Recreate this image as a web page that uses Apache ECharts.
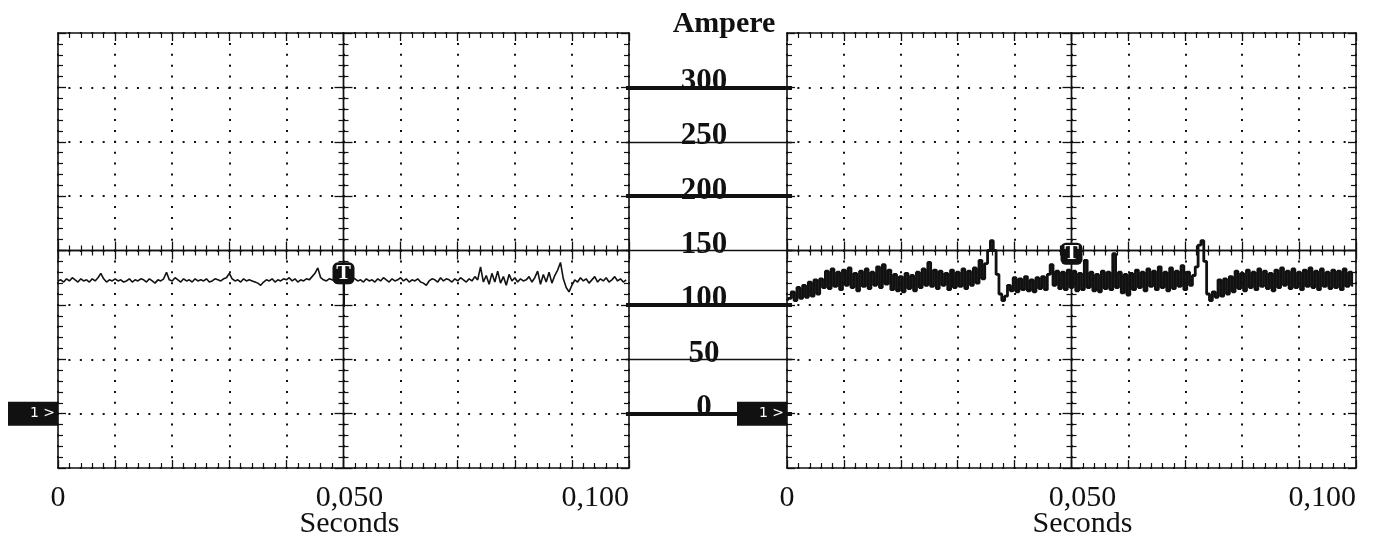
<!DOCTYPE html>
<html>
<head>
<meta charset="utf-8">
<script src="https://cdn.jsdelivr.net/npm/echarts@6/dist/echarts.min.js"></script>
<style>
  html, body { margin: 0; padding: 0; background: #fff; }
  #chart { width: 1375px; height: 541px; }
</style>
</head>
<body>
<div id="chart"></div>
<script>
// Time base of both captures (s)
const sampleStep = 0.0005;
const timeSpan = 0.1;
const timeTickStep = 0.01;
const timeLabelValues = [0, 0.05, 0.1];
const timeLabelTexts = ['0', '0,050', '0,100'];

// Current scale (A)
const ampMin = -50;
const ampMax = 350;
const ampStep = 50;
const ampScaleLevels = [0, 50, 100, 150, 200, 250, 300];

// Trigger levels (A)
const triggerLeft = 129;
const triggerRight = 147;
const triggerStemEnd = 98;

// Current, left capture (A)
const currentLeft = [
  122,123,121,124,122,125,123,121,124,122,
  123,121,124,122,125,129,124,121,123,122,
  124,122,123,121,122,124,121,123,122,124,
  123,121,124,122,120,123,122,124,130,123,
  122,125,123,121,124,122,123,121,124,122,
  123,122,124,121,122,124,123,122,124,125,
  129,124,122,123,121,124,122,123,122,121,
  120,118,121,123,122,124,121,123,122,124,
  123,125,122,124,121,123,122,124,123,126,
  129,134,125,123,122,124,123,122,124,123,
  124,122,123,125,124,122,123,121,124,122,
  123,121,124,122,125,123,121,124,122,123,
  125,122,124,121,123,122,124,121,120,118,
  122,124,123,121,125,122,124,123,121,124,
  122,125,123,121,124,122,126,123,135,121,
  127,119,129,121,131,120,126,118,128,122,
  125,121,124,122,123,126,121,125,131,119,
  128,121,130,120,127,132,139,124,116,112,
  118,123,121,125,122,124,120,123,126,121,
  124,122,125,121,123,126,122,124,121,123
];

// Current, right capture (A)
const currentRight = [
  104,106,112,104,116,106,118,107,121,108,
  123,110,124,116,131,115,133,117,130,114,
  132,118,134,116,129,113,131,117,133,115,
  130,118,135,116,137,119,132,114,128,113,
  126,112,129,115,127,113,130,116,133,118,
  139,117,132,115,131,118,129,114,132,116,
  130,117,133,115,131,118,134,120,141,124,
  138,150,159,150,128,110,104,108,118,113,
  125,112,124,114,126,113,123,112,125,115,
  126,114,128,137,118,131,115,130,114,132,
  116,131,113,129,114,141,116,130,113,128,
  112,131,115,130,114,147,116,130,111,128,
  109,129,114,132,116,130,113,133,117,131,
  114,135,116,130,113,134,115,131,117,136,
  114,130,118,127,135,155,159,140,110,104,
  112,107,123,108,124,110,126,112,131,115,
  129,113,132,116,130,114,133,117,131,115,
  129,113,132,116,134,118,131,115,133,116,
  130,114,132,117,134,116,131,114,133,117,
  130,115,132,116,131,114,133,117,130,118
];

const serif = "'Liberation Serif', 'Times New Roman', serif";
const ink = '#111';

function timeSeries(values) {
  return values.map((v, i) => [i * sampleStep, v]);
}

const grids = [
  { left: 58, top: 33, width: 571, height: 435, outerBoundsMode: 'none', containLabel: false },
  { left: 787, top: 33, width: 569, height: 435, outerBoundsMode: 'none', containLabel: false },
  { left: 626, top: 33, width: 166, height: 435, outerBoundsMode: 'none', containLabel: false }
];

const xAxes = [];
const yAxes = [];

function stroke(w) { return { color: ink, width: w }; }
function ticks(inside, len) { return { show: true, inside: inside, length: len, lineStyle: stroke(1.3) }; }
function minors(len) { return { show: true, splitNumber: 5, length: len, lineStyle: stroke(1.2) }; }

// Oscilloscope graticule: border with ticks, dotted divisions, centre cross with ticks
function scopeAxes(gridIndex, midShift, nameShift, dotGapX, dotGapY) {
  const base = xAxes.length;
  const timeCommon = {
    type: 'value', gridIndex: gridIndex, min: 0, max: timeSpan, interval: timeTickStep,
    axisLabel: { show: false }, splitLine: { show: false }
  };
  const ampCommon = {
    type: 'value', gridIndex: gridIndex, min: ampMin, max: ampMax, interval: ampStep,
    axisLabel: { show: false }, splitLine: { show: false }
  };
  xAxes.push(Object.assign({}, timeCommon, {
    position: 'bottom',
    axisLine: { onZero: false, lineStyle: stroke(1.6) },
    axisTick: ticks(true, 8), minorTick: minors(5),
    splitLine: { show: true, lineStyle: { color: ink, width: 2, type: [2, dotGapY], dashOffset: 1 } },
    axisLabel: {
      show: true, customValues: timeLabelValues, margin: 15,
      fontFamily: serif, fontSize: 30, color: ink,
      alignMinLabel: 'center', alignMaxLabel: 'right',
      rich: { mid: { fontFamily: serif, fontSize: 30, color: ink, padding: [0, 0, 0, midShift] } },
      formatter: function (v) {
        let best = 0;
        timeLabelValues.forEach((t, i) => { if (Math.abs(t - v) < Math.abs(timeLabelValues[best] - v)) best = i; });
        return best === 1 ? '{mid|' + timeLabelTexts[best] + '}' : timeLabelTexts[best];
      }
    },
    name: 'Seconds', nameLocation: 'middle', nameGap: 41, nameMoveOverlap: false,
    nameTextStyle: { fontFamily: serif, fontSize: 30, color: ink, padding: [0, 0, 0, nameShift] }
  }));
  xAxes.push(Object.assign({}, timeCommon, {
    position: 'top', axisLine: { onZero: false, lineStyle: stroke(1.6) },
    axisTick: ticks(true, 8), minorTick: minors(5)
  }));
  xAxes.push(Object.assign({}, timeCommon, {
    position: 'bottom', axisLine: { onZero: true, onZeroAxisIndex: base + 4, lineStyle: stroke(1.4) },
    axisTick: ticks(true, 9), minorTick: minors(5)
  }));
  xAxes.push(Object.assign({}, timeCommon, {
    position: 'bottom', axisLine: { onZero: true, onZeroAxisIndex: base + 4, lineStyle: stroke(1.4) },
    axisTick: ticks(false, 9), minorTick: minors(5)
  }));
  xAxes.push({ type: 'value', gridIndex: gridIndex, min: -1, max: 1, show: false });

  yAxes.push(Object.assign({}, ampCommon, {
    position: 'left', axisLine: { onZero: false, lineStyle: stroke(1.6) },
    axisTick: ticks(true, 8), minorTick: minors(5),
    splitLine: { show: true, lineStyle: { color: ink, width: 2, type: [2, dotGapX], dashOffset: 1 } }
  }));
  yAxes.push(Object.assign({}, ampCommon, {
    position: 'right', axisLine: { onZero: false, lineStyle: stroke(1.6) },
    axisTick: ticks(true, 8), minorTick: minors(5)
  }));
  yAxes.push(Object.assign({}, ampCommon, {
    position: 'left', axisLine: { onZero: true, onZeroAxisIndex: base + 4, lineStyle: stroke(1.4) },
    axisTick: ticks(true, 9), minorTick: minors(5)
  }));
  yAxes.push(Object.assign({}, ampCommon, {
    position: 'left', axisLine: { onZero: true, onZeroAxisIndex: base + 4, lineStyle: stroke(1.4) },
    axisTick: ticks(false, 9), minorTick: minors(5)
  }));
  yAxes.push({ type: 'value', gridIndex: gridIndex, min: -1, max: 1, show: false });
  return base;
}

const leftBase = scopeAxes(0, 12, 12, 9.42, 8.875);
const rightBase = scopeAxes(1, 22, 22, 9.38, 8.875);

// Central current scale
const midIndex = xAxes.length;
xAxes.push({ type: 'value', gridIndex: 2, min: 0, max: 1, show: false });
yAxes.push({ type: 'value', gridIndex: 2, min: ampMin, max: ampMax, show: false });

function channelMarker() {
  return {
    coord: [0, ampScaleLevels[0]], symbol: 'rect', symbolSize: [50, 24], symbolOffset: ['-50%', 0],
    itemStyle: { color: ink },
    label: { show: true, formatter: '1 >', position: 'insideRight', distance: 3,
      color: '#fff', fontSize: 14, fontFamily: "'DejaVu Sans', sans-serif" }
  };
}
function triggerMarker(level) {
  return {
    coord: [timeLabelValues[1], level], symbol: 'roundRect', symbolSize: 22,
    itemStyle: { color: ink },
    label: { show: true, formatter: 'T', position: 'inside', color: '#fff',
      fontFamily: serif, fontWeight: 'bold', fontSize: 22 }
  };
}

const option = {
  animation: false,
  backgroundColor: '#fff',
  title: {
    text: 'Ampere', left: 719, top: 4, textAlign: 'center',
    textStyle: { fontFamily: serif, fontWeight: 'bold', fontSize: 30, color: ink }
  },
  grid: grids,
  xAxis: xAxes,
  yAxis: yAxes,
  series: [
    {
      type: 'line', xAxisIndex: leftBase, yAxisIndex: leftBase,
      data: timeSeries(currentLeft), symbol: 'none', clip: false,
      lineStyle: { color: ink, width: 1.6 },
      markLine: {
        silent: true, symbol: ['none', 'none'], label: { show: false },
        lineStyle: { color: ink, width: 2, type: 'solid' },
        data: [[{ coord: [timeLabelValues[1], triggerLeft] }, { coord: [timeLabelValues[1], triggerStemEnd] }]]
      },
      markPoint: { silent: true, z: 10, data: [channelMarker(), triggerMarker(triggerLeft)] }
    },
    {
      // dense noisy trace, held between samples so the band reads solid
      type: 'line', xAxisIndex: rightBase, yAxisIndex: rightBase,
      data: timeSeries(currentRight), symbol: 'none', clip: false, step: 'middle',
      lineStyle: { color: ink, width: 2.8 },
      markPoint: { silent: true, z: 10, data: [channelMarker(), triggerMarker(triggerRight)] }
    },
    {
      type: 'line', xAxisIndex: midIndex, yAxisIndex: midIndex, data: [],
      markLine: {
        silent: true, symbol: ['none', 'none'],
        label: {
          show: true, position: 'insideMiddleTop', distance: -10, formatter: '{c}',
          fontFamily: serif, fontWeight: 'bold', fontSize: 31, color: ink, offset: [-5, 0]
        },
        data: ampScaleLevels.map(v => ({
          yAxis: v,
          lineStyle: { color: ink, width: v % 100 === 0 ? 4 : 1.3, type: 'solid' }
        }))
      }
    }
  ]
};

echarts.init(document.getElementById('chart'), null, { renderer: 'canvas' }).setOption(option);
</script>
</body>
</html>
